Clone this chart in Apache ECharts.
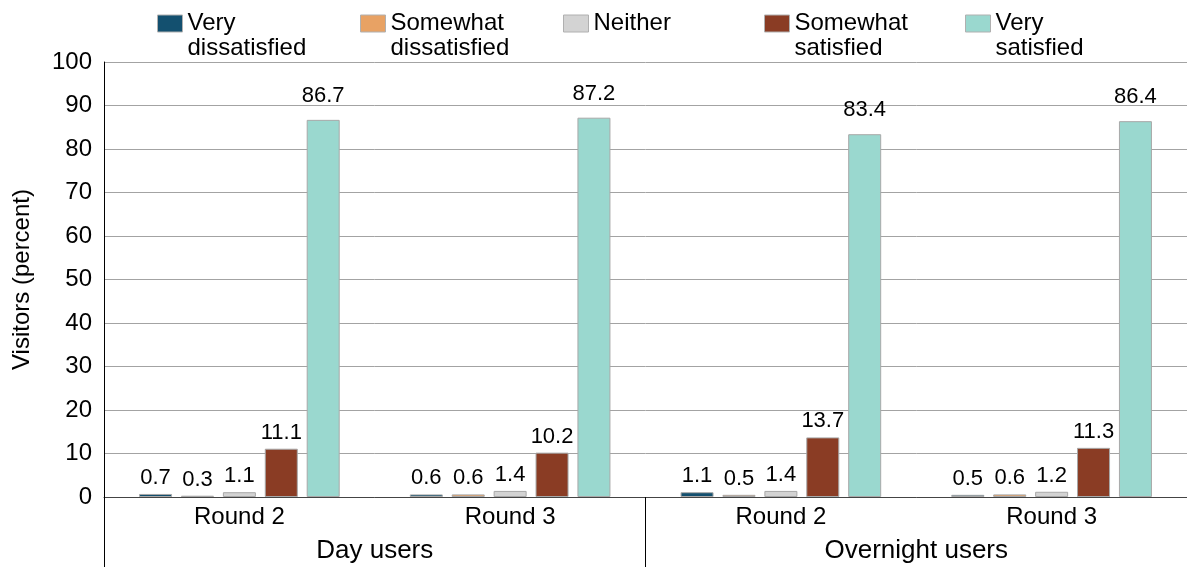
<!DOCTYPE html>
<html>
<head>
<meta charset="utf-8">
<script src="https://cdn.jsdelivr.net/npm/echarts@6/dist/echarts.min.js"></script>
<style>
html,body{margin:0;padding:0;background:#fff;}
#chart{width:1187px;height:567px;}
</style>
</head>
<body>
<div id="chart"></div>
<script>
// ---- data ----
const categories = ['Round 2', 'Round 3', 'Round 2', 'Round 3'];
const groups = ['Day users', 'Overnight users'];
const seriesNames = ['Very\ndissatisfied', 'Somewhat\ndissatisfied', 'Neither', 'Somewhat\nsatisfied', 'Very\nsatisfied'];
const veryDissatisfied = [0.7, 0.6, 1.1, 0.5];
const somewhatDissatisfied = [0.3, 0.6, 0.5, 0.6];
const neither = [1.1, 1.4, 1.4, 1.2];
const somewhatSatisfied = [11.1, 10.2, 13.7, 11.3];
const verySatisfied = [86.7, 87.2, 83.4, 86.4];
const yTicks = [0, 10, 20, 30, 40, 50, 60, 70, 80, 90, 100];

// ---- styles ----
const colors = ['#13506f', '#e8a264', '#d3d3d3', '#8a3c24', '#9ad8cf'];
const legendLeft = [157, 360, 563, 764, 965];
const FONT = 'Liberation Sans, Arial, Helvetica, sans-serif';
const values = [veryDissatisfied, somewhatDissatisfied, neither, somewhatSatisfied, verySatisfied];

const chart = echarts.init(document.getElementById('chart'), null, {renderer: 'canvas'});

const legends = seriesNames.map((n, i) => {
  const multi = n.indexOf('\n') >= 0;
  return {
    data: [n],
    left: legendLeft[i],
    top: multi ? -14 : 11,
    padding: 0,
    orient: 'horizontal',
    icon: 'rect',
    itemWidth: 25,
    itemHeight: 17,
    selectedMode: false,
    formatter: (name) => (multi ? '\n' + name : name),
    itemStyle: {borderColor: '#b0b0b0', borderWidth: 1},
    textStyle: {fontSize: 24, color: '#000', fontFamily: FONT, lineHeight: 25}
  };
});

const series = seriesNames.map((n, i) => ({
  name: n,
  type: 'bar',
  xAxisIndex: 0,
  yAxisIndex: 0,
  data: values[i],
  barWidth: 33,
  barGap: '27%',
  itemStyle: {color: colors[i], borderColor: '#a8a8a8', borderWidth: 1},
  label: {
    show: true, position: 'top', distance: i === 4 ? 13 : 5,
    fontSize: 22, color: '#000', fontFamily: FONT
  }
}));

chart.setOption({
  animation: false,
  textStyle: {fontFamily: FONT},
  legend: legends,
  grid: {left: 104, right: -13, top: 62, bottom: 70, containLabel: false},
  xAxis: [
    {
      type: 'category', data: categories, position: 'bottom',
      axisLine: {show: true, lineStyle: {color: '#444', width: 1}},
      axisTick: {show: false},
      axisLabel: {fontSize: 24, color: '#000', margin: 8, fontFamily: FONT},
      splitLine: {show: false}
    },
    {
      type: 'category', data: groups, position: 'bottom',
      axisLine: {show: false},
      axisTick: {show: true, length: 71, inside: false, lineStyle: {color: '#000', width: 1}},
      axisLabel: {fontSize: 26, color: '#000', margin: 41, fontFamily: FONT},
      splitLine: {show: false}
    }
  ],
  yAxis: {
    type: 'value', min: yTicks[0], max: yTicks[yTicks.length - 1], interval: 10,
    name: 'Visitors (percent)', nameLocation: 'middle', nameGap: 70,
    nameTextStyle: {fontSize: 24, color: '#000', fontFamily: FONT},
    axisLine: {show: true, lineStyle: {color: '#000', width: 1}},
    axisTick: {show: false},
    axisLabel: {fontSize: 24, color: '#000', margin: 12, fontFamily: FONT},
    splitLine: {show: true, lineStyle: {color: '#a3a3a3', width: 1}}
  },
  series: series
});
</script>
</body>
</html>
